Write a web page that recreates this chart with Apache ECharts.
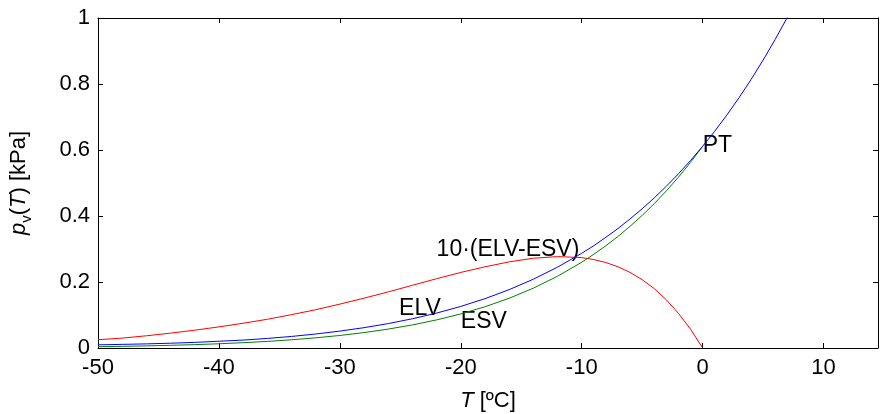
<!DOCTYPE html>
<html>
<head>
<meta charset="utf-8">
<script src="https://cdn.jsdelivr.net/npm/echarts@6/dist/echarts.min.js"></script>
<style>
  html, body { margin: 0; padding: 0; background: #fff; }
  #chart { width: 880px; height: 414px; }
</style>
</head>
<body>
<div id="chart"></div>
<script>
// 温度 (ºC)
const tempsIce = [-50, -48, -46, -44, -42, -40, -38, -36, -34, -32, -30, -28, -26,
  -24, -22, -20, -18, -16, -14, -12, -10, -9, -8, -7, -6, -5, -4, -3, -2, -1, 0]
const tempsLiquid = tempsIce.concat([1, 2, 3, 4, 5, 6, 7, 8])

// 液态水上方饱和蒸气压 ELV (kPa)
const elvValues = [0.0095, 0.011, 0.0125, 0.0145, 0.017, 0.0205, 0.0240, 0.0290, 0.0350,
  0.0424, 0.0512, 0.0616, 0.0740, 0.0886, 0.1058, 0.1260, 0.1495, 0.1768, 0.2084,
  0.2450, 0.2870, 0.3100, 0.3355, 0.3621, 0.3912, 0.4219, 0.4549, 0.4902, 0.5279,
  0.5682, 0.6112,
  0.6571, 0.7059, 0.7580, 0.8135, 0.8725, 0.9352, 1.0019, 1.0728]

// 冰面上方饱和蒸气压 ESV (kPa)
const esvValues = [0.0039, 0.0050, 0.0064, 0.0081, 0.0102, 0.0128, 0.0161, 0.0200,
  0.0249, 0.0308, 0.0380, 0.0467, 0.0573, 0.0699, 0.0851, 0.1033, 0.1250, 0.1507,
  0.1813, 0.2174, 0.2599, 0.2840, 0.3100, 0.3382, 0.3688, 0.4018, 0.4375, 0.4761,
  0.5177, 0.5627, 0.6112]

// 10·(ELV-ESV)
const diffValues = [0.025, 0.030, 0.037, 0.045, 0.054, 0.064, 0.075, 0.087, 0.101,
  0.116, 0.133, 0.151, 0.170, 0.190, 0.210, 0.229, 0.246, 0.261, 0.272, 0.277,
  0.274, 0.268, 0.259, 0.246, 0.229, 0.207, 0.180, 0.146, 0.105, 0.057, 0]

// 图中文字标注 (数据坐标)
const annotations = [
  { name: 'PT', value: [0, 0.614] },
  { name: '10·(ELV-ESV)', value: [-22, 0.299] },
  { name: 'ELV', value: [-25.1, 0.12] },
  { name: 'ESV', value: [-20, 0.079] },
]

const xTicks = { min: -50, max: 14.5, interval: 10 }
const yTicks = { min: 0, max: 1, interval: 0.2 }

const zip = (xs, ys) => ys.map((y, i) => [xs[i], y])

const font = 'Liberation Sans, Arial, sans-serif'

const chart = echarts.init(document.getElementById('chart'))

const boxAxisLine = { show: true, onZero: false, lineStyle: { color: '#000', width: 1 } }
const boxTick = { show: true, inside: true, length: 5, lineStyle: { color: '#000', width: 1 } }

chart.setOption({
  animation: false,
  textStyle: { fontFamily: font },
  // 固定绘图区位置，不让坐标轴名称挤压网格
  grid: { left: 98, right: 2, top: 18, bottom: 66, outerBoundsMode: 'none' },
  xAxis: [
    {
      type: 'value',
      position: 'bottom',
      ...xTicks,
      axisLine: boxAxisLine,
      axisTick: boxTick,
      splitLine: { show: false },
      axisLabel: {
        color: '#000',
        fontSize: 22,
        fontFamily: font,
        margin: 9,
        formatter: (v) => (v % 10 === 0 ? String(v) : ''),
      },
      name: '{i|T} [ºC]',
      nameLocation: 'middle',
      nameGap: 42,
      nameTextStyle: {
        color: '#000',
        fontSize: 22,
        fontFamily: font,
        rich: {
          i: { fontStyle: 'italic', fontSize: 22, fontFamily: font, color: '#000' },
        },
      },
    },
    {
      type: 'value',
      position: 'top',
      ...xTicks,
      axisLine: boxAxisLine,
      axisTick: boxTick,
      axisLabel: { show: false },
      splitLine: { show: false },
    },
  ],
  yAxis: [
    {
      type: 'value',
      position: 'left',
      ...yTicks,
      axisLine: boxAxisLine,
      axisTick: boxTick,
      splitLine: { show: false },
      axisLabel: { color: '#000', fontSize: 22, fontFamily: font, margin: 8 },
      name: '{i|p}{s|v}({i|T}) [kPa]',
      nameLocation: 'middle',
      nameGap: 64,
      nameTextStyle: {
        color: '#000',
        fontSize: 22,
        fontFamily: font,
        lineHeight: 30,
        rich: {
          i: { fontStyle: 'italic', fontSize: 22, fontFamily: font, color: '#000', lineHeight: 30 },
          s: { fontSize: 15, fontFamily: font, color: '#000', lineHeight: 6, verticalAlign: 'bottom' },
        },
      },
    },
    {
      type: 'value',
      position: 'right',
      ...yTicks,
      axisLine: boxAxisLine,
      axisTick: boxTick,
      axisLabel: { show: false },
      splitLine: { show: false },
    },
  ],
  series: [
    {
      name: '10·(ELV-ESV)',
      type: 'line',
      data: zip(tempsIce, diffValues),
      showSymbol: false,
      lineStyle: { color: '#ff0000', width: 1 },
    },
    {
      name: 'ESV',
      type: 'line',
      data: zip(tempsIce, esvValues),
      showSymbol: false,
      lineStyle: { color: '#008000', width: 1 },
    },
    {
      name: 'ELV',
      type: 'line',
      data: zip(tempsLiquid, elvValues),
      showSymbol: false,
      lineStyle: { color: '#0000ff', width: 1 },
    },
    {
      name: 'labels',
      type: 'scatter',
      data: annotations,
      symbolSize: 0,
      silent: true,
      itemStyle: { opacity: 1 },
      label: {
        show: true,
        position: 'right',
        distance: 0,
        formatter: (p) => p.name,
        color: '#000',
        fontSize: 23,
        fontFamily: font,
      },
    },
  ],
})
</script>
</body>
</html>
